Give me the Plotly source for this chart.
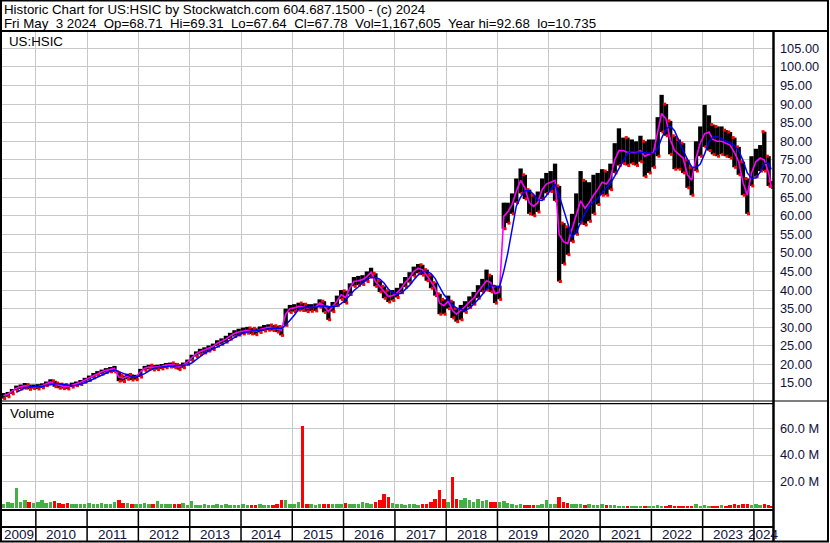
import plotly.graph_objects as go
import pandas as pd

# ---------------- data (monthly) ----------------
first_month = "2009-05-01"
last_day = "2024-05-03"

close = [
    11.6, 12.0, 12.8, 13.6, 14.0, 14.3, 14.0, 14.0,
    14.0, 14.3, 14.8, 15.3, 14.8, 14.4, 14.1, 14.0, 14.5, 14.8, 15.2, 15.8,
    16.3, 17.0, 17.6, 18.0, 18.4, 18.6, 18.9, 16.6, 16.3, 16.8, 16.5, 16.6,
    18.0, 19.0, 19.3, 19.2, 19.3, 19.5, 19.8, 19.9, 19.8, 19.3, 19.8, 20.6,
    21.8, 22.8, 23.4, 23.8, 24.3, 24.8, 25.7, 26.2, 26.8, 27.6, 28.3, 28.7,
    29.0, 29.2, 29.0, 28.9, 29.4, 29.8, 30.0, 29.9, 29.6, 29.2, 33.5, 35.0,
    35.2, 35.6, 35.5, 35.2, 35.3, 35.4, 36.5, 35.8, 34.2, 35.5, 37.0, 38.8,
    38.0, 40.5, 42.3, 42.5, 42.8, 43.6, 44.8, 42.3, 41.0, 39.5, 38.3, 38.5,
    39.2, 40.5, 42.0, 43.3, 45.0, 45.8, 45.5, 44.0, 42.3, 40.5, 36.5, 35.8,
    37.0, 34.5, 33.5, 34.5, 35.5, 36.8, 37.8, 39.5, 41.0, 42.5, 42.0, 39.0,
    39.5, 59.8, 61.0, 63.0, 66.5, 69.5, 67.5, 63.5, 62.5, 63.5, 67.0, 68.5,
    69.0, 69.5, 55.0, 53.0, 52.5, 56.5, 60.0, 64.0, 62.0, 63.5, 65.5, 67.0,
    69.0, 68.5, 70.0, 75.0, 77.5, 77.5, 77.0, 77.0, 77.0, 77.5, 76.0, 76.5,
    77.0, 82.5, 87.5, 86.0, 80.5, 77.5, 76.5, 75.5, 71.0, 69.5, 75.5, 79.5,
    82.0, 82.5, 80.5, 80.0, 80.0, 79.5, 79.0, 77.0, 74.5, 69.0, 65.5, 71.5,
    74.5, 75.5, 75.0, 71.5, 67.8,
]
high = [
    12.3, 12.6, 13.4, 14.3, 14.6, 15.0, 14.6, 14.6,
    14.7, 14.9, 15.4, 16.0, 15.6, 15.0, 14.7, 14.6, 15.1, 15.4, 15.8, 16.4,
    17.0, 17.7, 18.2, 18.6, 19.0, 19.3, 19.6, 18.0, 17.0, 17.5, 17.3, 17.2,
    18.8, 19.6, 19.9, 19.8, 19.9, 20.1, 20.4, 20.5, 20.4, 20.0, 20.5, 21.3,
    22.6, 23.5, 24.2, 24.6, 25.1, 25.6, 26.5, 27.0, 27.7, 28.5, 29.2, 29.6,
    29.9, 30.1, 29.8, 29.7, 30.2, 30.6, 30.8, 30.6, 30.4, 30.2, 35.0, 36.0,
    36.2, 36.6, 36.5, 36.2, 36.2, 36.4, 37.5, 37.0, 35.5, 36.8, 38.5, 40.0,
    39.8, 41.8, 43.5, 43.8, 44.0, 45.0, 46.0, 44.5, 42.5, 41.0, 39.8, 40.0,
    40.6, 41.8, 43.5, 44.8, 46.3, 47.0, 46.8, 45.5, 44.0, 42.0, 39.0, 37.5,
    38.5, 37.0, 35.0, 36.0, 37.0, 38.3, 39.5, 41.3, 43.0, 45.5, 44.0, 41.0,
    41.2, 63.5, 63.5, 66.0, 70.0, 72.7, 71.0, 67.0, 65.5, 66.5, 70.0, 71.5,
    72.0, 74.0, 68.0, 58.0, 57.0, 60.5, 66.0, 72.0, 69.5, 69.0, 71.0, 71.5,
    72.5, 72.0, 74.0, 79.5, 83.5, 81.0, 81.0, 80.5, 80.0, 81.5, 80.0, 80.5,
    80.5, 86.5, 92.5, 90.0, 85.5, 81.5, 80.5, 79.5, 75.0, 73.0, 80.0, 84.0,
    89.8, 87.0, 84.5, 84.0, 84.0, 83.0, 82.5, 81.0, 78.5, 74.5, 70.0, 76.0,
    78.0, 79.0, 82.6, 76.0, 69.3,
]
low = [
    10.8, 11.3, 12.1, 13.0, 13.4, 13.6, 13.3, 13.5,
    13.4, 13.7, 14.3, 14.8, 14.0, 13.6, 13.5, 13.4, 13.9, 14.3, 14.6, 15.2,
    15.7, 16.4, 17.0, 17.4, 17.8, 18.0, 18.0, 15.5, 15.4, 16.0, 15.8, 15.9,
    16.6, 18.4, 18.7, 18.5, 18.6, 18.8, 19.1, 19.3, 19.1, 18.6, 19.1, 20.0,
    21.0, 22.1, 22.7, 23.1, 23.6, 24.0, 24.9, 25.4, 26.0, 26.8, 27.5, 27.9,
    28.2, 28.4, 28.2, 28.0, 28.6, 29.0, 29.2, 29.1, 28.7, 27.8, 30.5, 34.0,
    34.2, 34.6, 34.5, 34.2, 34.3, 34.4, 35.4, 34.0, 32.0, 34.2, 35.8, 37.5,
    36.5, 38.8, 41.0, 41.3, 41.5, 42.3, 43.5, 41.0, 39.5, 37.8, 36.8, 37.2,
    38.0, 39.3, 40.8, 42.0, 43.7, 44.5, 44.0, 42.5, 40.5, 38.5, 33.5, 33.5,
    35.0, 32.5, 31.5, 32.0, 34.0, 35.3, 36.2, 37.8, 39.5, 40.0, 39.5, 36.5,
    37.5, 56.5, 58.0, 60.5, 63.5, 66.0, 64.5, 60.5, 60.0, 61.0, 64.5, 66.0,
    66.5, 64.0, 42.3, 47.0, 49.5, 53.0, 55.0, 58.0, 57.5, 58.5, 60.5, 63.0,
    65.5, 65.5, 67.0, 71.5, 73.5, 74.0, 73.5, 74.0, 73.5, 74.5, 70.5, 71.5,
    73.0, 76.0, 82.5, 81.5, 76.5, 72.5, 72.5, 71.5, 67.5, 65.5, 72.0, 76.0,
    78.5, 77.5, 76.5, 76.0, 76.5, 76.0, 75.5, 73.0, 71.0, 65.5, 60.5, 68.0,
    70.5, 72.0, 72.0, 68.0, 67.6,
]
volume_m = [
    3.0, 4.0, 3.5, 14.8, 4.5, 5.8, 4.0, 3.5,
    4.0, 5.5, 3.5, 4.5, 5.0, 3.5, 3.0, 3.5, 3.0, 2.8, 3.0, 2.8,
    3.2, 3.0, 2.8, 3.5, 3.0, 2.5, 4.0, 6.0, 3.5, 3.8, 3.0, 2.5,
    2.5, 3.5, 2.8, 2.5, 5.0, 2.8, 2.5, 3.0, 2.5, 2.5, 3.5, 2.0,
    5.0, 2.2, 2.0, 2.5, 1.8, 2.0, 2.8, 1.8, 2.5, 1.8, 2.2, 2.0,
    2.5, 2.0, 2.2, 2.0, 2.5, 2.0, 1.8, 2.2, 2.5, 5.8, 5.5, 2.5,
    2.5, 4.0, 62.3, 3.0, 2.5, 2.0, 3.0, 2.5, 3.0, 2.5, 2.8, 2.5,
    3.5, 3.0, 3.0, 2.5, 4.0, 3.2, 2.5, 4.5, 6.0, 10.5, 8.5, 3.5,
    2.5, 2.5, 2.0, 3.0, 2.5, 2.0, 2.5, 2.5, 4.0, 7.0, 13.6, 6.5,
    4.0, 23.8, 7.0, 6.0, 7.5, 5.5, 4.5, 6.5, 5.0, 5.5, 4.5, 4.5,
    4.0, 5.0, 3.5, 2.5, 2.0, 2.5, 2.0, 1.8, 2.2, 2.0, 2.5, 5.7,
    2.5, 3.0, 8.4, 4.0, 3.5, 3.0, 2.5, 2.5, 2.0, 2.5, 2.0, 1.8,
    2.5, 1.8, 2.0, 2.0, 1.5, 1.5, 1.5, 1.2, 1.5, 1.2, 1.5, 1.5,
    1.2, 2.0, 1.5, 1.5, 2.0, 1.2, 1.5, 1.5, 1.2, 1.5, 2.5, 1.5,
    2.0, 1.5, 1.5, 1.5, 1.8, 1.5, 1.8, 2.5, 2.0, 2.5, 3.0, 2.0,
    2.5, 2.0, 2.5, 2.0, 1.2,
]
years = list(range(2009, 2025))
price_ticks = list(range(15, 106, 5))
volume_ticks = [20, 40, 60]
volume_tick_text = ["20.0 M", "40.0 M", "60.0 M"]

title_line1 = "Historic Chart for US:HSIC by Stockwatch.com 604.687.1500 - (c) 2024"
title_line2 = ("Fri May  3 2024  Op=68.71  Hi=69.31  Lo=67.64  Cl=67.78  "
               "Vol=1,167,605  Year hi=92.68  lo=10.735")
symbol = "US:HSIC"

# ---------------- derived series ----------------
dates = list(pd.date_range(first_month, periods=len(close), freq="MS") + pd.Timedelta(days=14))
dates[-1] = pd.Timestamp(last_day)
s_close = pd.Series(close)
ma_long = s_close.rolling(4).mean()
up = [True] + [close[i] >= close[i - 1] for i in range(1, len(close))]

bar_x, bar_y = [], []
for d, lo_, hi_ in zip(dates, low, high):
    bar_x += [d, d, None]
    bar_y += [lo_, hi_, None]

red_x = [d + pd.Timedelta(days=9) for d in dates]
red_hi_x = [d - pd.Timedelta(days=9) for d, u in zip(dates, up) if not u]
red_hi_y = [h for h, u in zip(high, up) if not u]

# ---------------- geometry (pixels -> paper) ----------------
W, H = 830, 543
L, R, T, B = 2, 773, 32, 541
def px(x):
    return (x - L) / (R - L)
def py(y):
    return (B - y) / (B - T)

x_range = ["2009-05-05", "2024-05-16"]
FONT = "Liberation Sans, Arial, sans-serif"
GRID = "#c8c8c8"

fig = go.Figure()
fig.add_trace(go.Scatter(x=bar_x, y=bar_y, mode="lines",
                         line=dict(color="black", width=4.3), hoverinfo="skip",
                         xaxis="x", yaxis="y", showlegend=False))
fig.add_trace(go.Scatter(x=red_x, y=low, mode="markers",
                         marker=dict(color="red", size=3, symbol="square", line=dict(width=0)),
                         xaxis="x", yaxis="y", showlegend=False))
fig.add_trace(go.Scatter(x=red_hi_x, y=red_hi_y, mode="markers",
                         marker=dict(color="red", size=3, symbol="square", line=dict(width=0)),
                         xaxis="x", yaxis="y", showlegend=False))
fig.add_trace(go.Scatter(x=dates, y=close, mode="lines",
                         line=dict(color="#ff00ff", width=1.6),
                         xaxis="x", yaxis="y", showlegend=False))
fig.add_trace(go.Scatter(x=dates, y=ma_long, mode="lines",
                         line=dict(color="#0000ff", width=1.5),
                         xaxis="x", yaxis="y", showlegend=False))
fig.add_trace(go.Bar(x=dates, y=volume_m,
                     marker=dict(color=["#44b044" if u else "#ff0000" for u in up], line=dict(width=0)),
                     width=25 * 24 * 3600 * 1000,
                     xaxis="x2", yaxis="y2", showlegend=False))

axis_x = dict(range=x_range, type="date", showticklabels=False, showline=False, zeroline=False,
              showgrid=True, gridcolor=GRID, gridwidth=1, tick0="2010-01-01", dtick="M12", ticks="")
fig.update_layout(
    width=W, height=H,
    margin=dict(l=L, r=W - R, t=T, b=H - B, autoexpand=False),
    paper_bgcolor="white", plot_bgcolor="white",
    bargap=0,
    xaxis=dict(axis_x, domain=[0, 1], anchor="y"),
    xaxis2=dict(axis_x, domain=[0, 1], anchor="y2", matches="x"),
    yaxis=dict(domain=[py(401), 1], range=[10.16, 109.4], side="right",
               tickvals=price_ticks, ticktext=["%.2f" % v for v in price_ticks],
               showgrid=True, gridcolor=GRID, zeroline=False, showline=False, ticks="",
               ticklabelstandoff=6, tickfont=dict(family=FONT, size=12.8, color="#10103a")),
    yaxis2=dict(domain=[py(509.5), py(403.5)], range=[-1.8, 79.5], side="right",
                tickvals=volume_ticks, ticktext=volume_tick_text,
                showgrid=True, gridcolor=GRID, zeroline=False, showline=False, ticks="",
                ticklabelstandoff=6, tickfont=dict(family=FONT, size=12.8, color="#10103a")),
    font=dict(family=FONT, color="black"),
)

shapes = []
def hline(y, x0, x1, w):
    shapes.append(dict(type="line", xref="paper", yref="paper", x0=px(x0), x1=px(x1),
                       y0=py(y), y1=py(y), line=dict(color="black", width=w)))
def vline(x, y0, y1, w):
    shapes.append(dict(type="line", xref="paper", yref="paper", x0=px(x), x1=px(x),
                       y0=py(y0), y1=py(y1), line=dict(color="black", width=w)))

shapes.append(dict(type="rect", xref="paper", yref="paper", x0=px(1), x1=px(828),
                   y0=py(541.5), y1=py(0.5), line=dict(color="black", width=2)))
hline(31, 0, 829, 2.2)
vline(773.5, 31, 541, 2.5)
hline(401, 0, 829, 1.2)
hline(403.6, 0, 773, 1.2)
hline(510, 0, 773, 2.2)
hline(527, 0, 773, 2.2)
for yr in years[1:]:
    shapes.append(dict(type="line", xref="x", yref="paper", x0="%d-01-01" % yr, x1="%d-01-01" % yr,
                       y0=py(510), y1=py(541), line=dict(color="black", width=1.5)))
fig.update_layout(shapes=shapes)

ann = []
def text(x, y, s, size=13):
    ann.append(dict(xref="paper", yref="paper", x=px(x), y=py(y), text=s, showarrow=False,
                    xanchor="left", yanchor="middle", font=dict(family=FONT, size=size, color="black")))
text(2, 9.5, title_line1.replace(" ", "\u00a0"), 13.3)
text(2, 23.5, title_line2.replace(" ", "\u00a0"), 13.3)
text(7, 41.5, symbol, 13.3)
text(8, 413.5, "Volume", 13.3)

start = pd.Timestamp(x_range[0])
end = pd.Timestamp(x_range[1])
for yr in years:
    a = max(pd.Timestamp("%d-01-01" % yr), start)
    b = min(pd.Timestamp("%d-01-01" % (yr + 1)), end)
    mid = a + (b - a) / 2
    ann.append(dict(xref="x", yref="paper", x=mid, y=py(534.5), text=str(yr), showarrow=False,
                    xanchor="center", yanchor="middle", font=dict(family=FONT, size=13.5, color="#10103a")))
fig.update_layout(annotations=ann)

fig.write_html("out.html", config={"displayModeBar": False},
               post_script="document.body.style.margin='0px';document.body.style.overflow='hidden';")
